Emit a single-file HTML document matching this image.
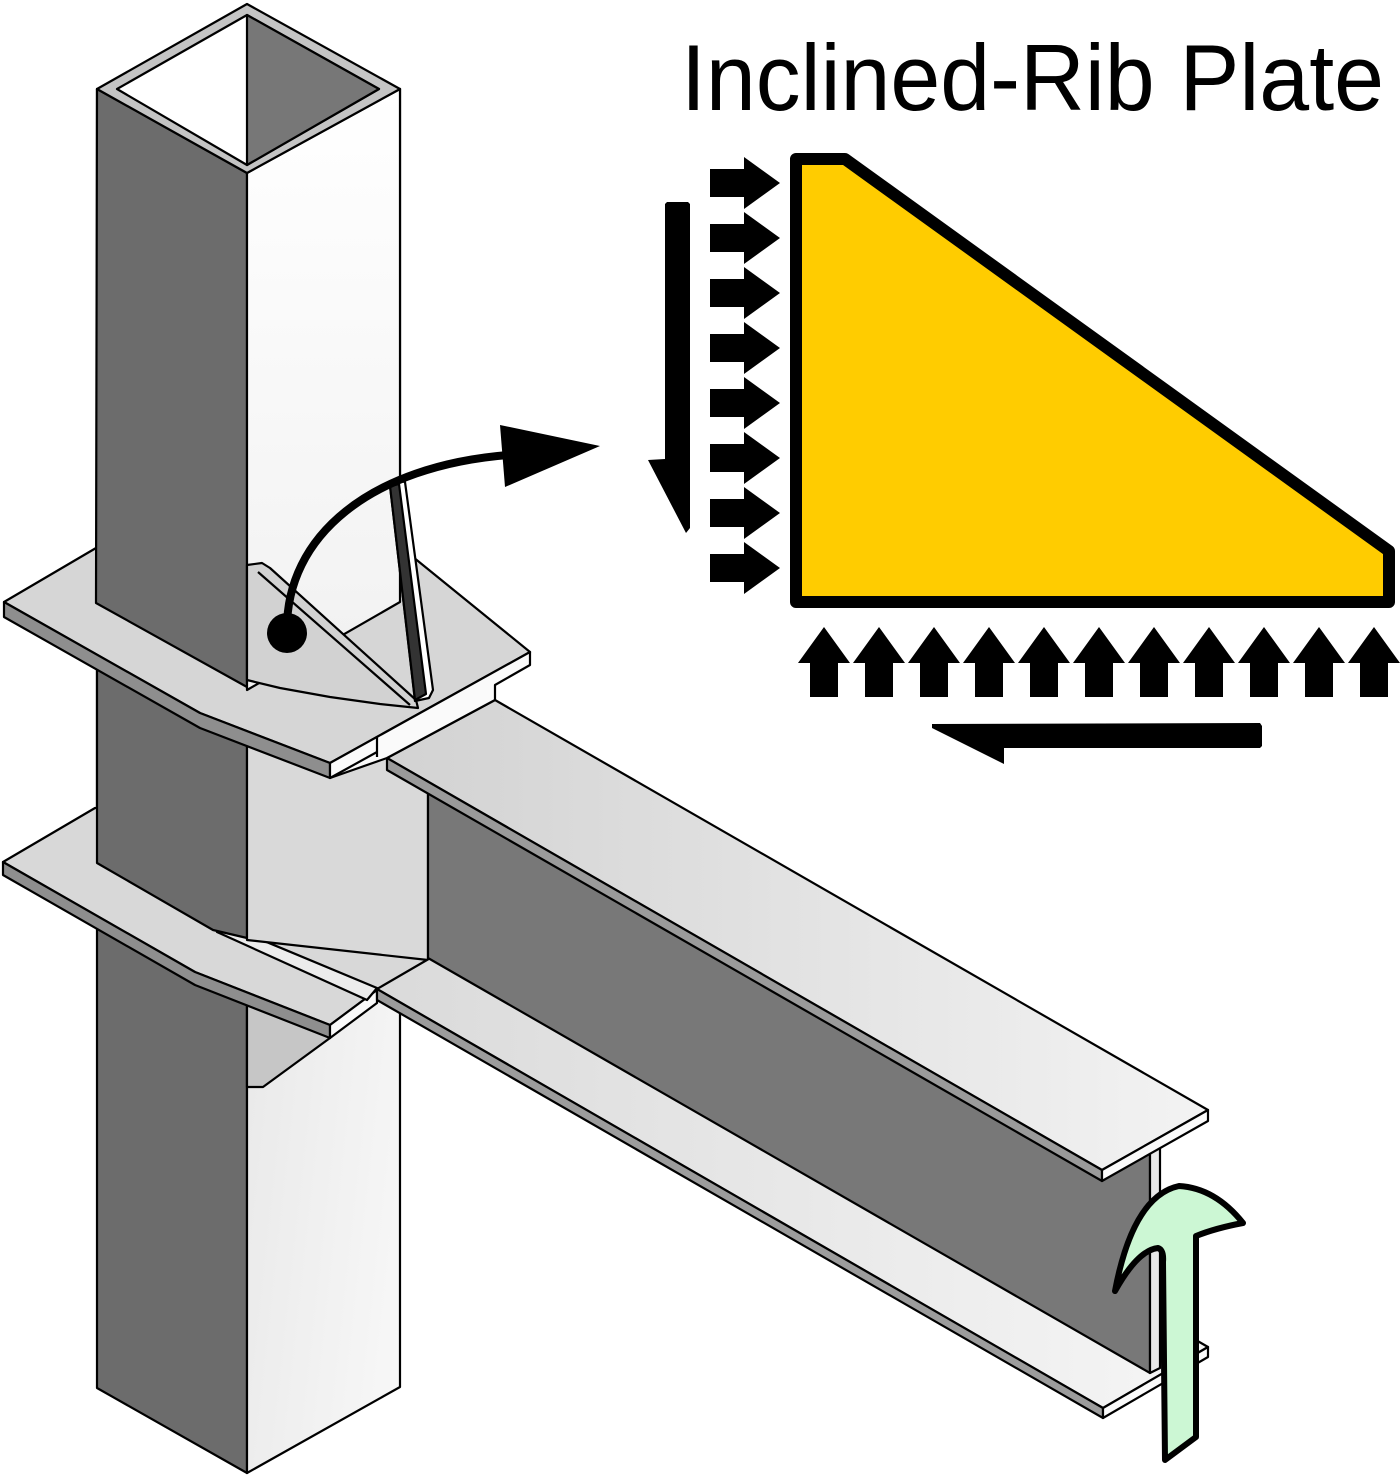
<!DOCTYPE html>
<html><head><meta charset="utf-8"><style>
html,body{margin:0;padding:0;background:#fff}
svg{display:block}
</style></head><body>
<svg width="1400" height="1478" viewBox="0 0 1400 1478" xmlns="http://www.w3.org/2000/svg">
<defs>
<linearGradient id="colR" x1="0" y1="0" x2="0" y2="1"><stop offset="0" stop-color="#ffffff"/><stop offset="1" stop-color="#f1f1f1"/></linearGradient>
<linearGradient id="colRlow" x1="0" y1="0" x2="1" y2="1"><stop offset="0" stop-color="#e2e2e2"/><stop offset="1" stop-color="#f8f8f8"/></linearGradient>
<linearGradient id="flg" x1="0" y1="0" x2="1" y2="0"><stop offset="0" stop-color="#d2d2d2"/><stop offset="1" stop-color="#f3f3f3"/></linearGradient>
<linearGradient id="flg2" x1="0" y1="0" x2="1" y2="0"><stop offset="0" stop-color="#dadada"/><stop offset="1" stop-color="#f6f6f6"/></linearGradient>
</defs>
<g stroke="#000" stroke-width="2.2" stroke-linejoin="round">
<!-- full column -->
<polygon points="97,89 247,173 247,1473 97,1388" fill="#6c6c6c"/>
<polygon points="247,173 400,89 400,1387 247,1473" fill="url(#colRlow)"/>
<polygon points="247,997 330,1038 263,1087 247,1087" fill="#c6c6c6"/>

<!-- lower plate -->
<polygon points="3,862 95,808 430,808 430,990 377,990 330,1025 195,972" fill="#d8d8d8"/>
<polygon points="3,862 195,972 330,1025 330,1038 195,985 3,875" fill="#8e8e8e"/>
<polygon points="330,1025 377,990 377,1003 330,1038" fill="#fafafa"/>
<polygon points="217,932 233,928 377,988 367,1000" fill="#ececec"/>

<!-- column middle -->
<polygon points="97,603 247,687 247,938 213,930 97,863" fill="#6c6c6c"/>
<polygon points="247,690 400,602 428,602 428,960 247,940" fill="#d9d9d9"/>

<!-- bottom flange -->
<polygon points="377,989 482,928 1208,1347 1103,1408" fill="url(#flg2)"/>
<polygon points="377,989 1103,1408 1103,1418 377,1000" fill="#9c9c9c"/>
<polygon points="1103,1408 1208,1347 1208,1357 1103,1418" fill="#fafafa"/>

<!-- web -->
<polygon points="428,785 1150,1150 1150,1373 428,958" fill="#787878"/>
<polygon points="1150,1153 1160,1148 1160,1368 1150,1373" fill="#e8e8e8"/>

<!-- top flange -->
<polygon points="387,758 495,700 1208,1110 1102,1170" fill="url(#flg)"/>
<polygon points="387,758 1102,1170 1102,1181 387,770" fill="#9a9a9a"/>
<polygon points="1102,1170 1208,1110 1208,1121 1102,1181" fill="#fafafa"/>

<!-- upper plate -->
<polygon points="4,602 96,548 250,540 413,557 530,652 330,763 200,713" fill="#d6d6d6"/>
<polygon points="4,602 200,713 330,763 330,778 200,728 4,617" fill="#8e8e8e"/>
<polygon points="330,763 530,652 530,665 495,685 495,700 387,758 330,778" fill="#fafafa"/>
<polyline points="330,778 377,752" fill="none"/>
<polyline points="377,737 377,757" fill="none"/>

<!-- column upper -->
<polygon points="97,89 247,173 247,687 96,603" fill="#6c6c6c"/>
<polygon points="247,173 400,89 400,602 247,690" fill="url(#colR)"/>
<polygon points="97,89 247,4 400,89 247,173" fill="#c4c4c4"/>
<polygon points="117,89 247,15 379,89 247,165" fill="#ffffff"/>
<polygon points="247,15 379,89 247,165" fill="#777777"/>

<!-- inclined triangular rib -->
<polygon points="247,565 262,563 270,568 416,700 418,708 380,704 330,697 280,688 247,680" fill="#d2d2d2"/>
<polyline points="258,572 410,705" fill="none"/>

<!-- vertical rib -->
<polygon points="390,486 397,480 405,482 433,690 429,698 415,701" fill="#ffffff"/>
<polygon points="390,486 399,484 426,694 415,700" fill="#333333"/>
</g>

<!-- curved black arrow -->
<path d="M287,632 C285,535 372,466 508,455" fill="none" stroke="#000" stroke-width="8"/>
<polygon points="500,425 600,446 505,487" fill="#000"/>
<circle cx="287" cy="633" r="20" fill="#000"/>

<!-- green arrow -->
<path d="M1165,1460 L1196,1437 L1196,1236 Q1216,1228 1243,1223 Q1215,1188 1179,1186 Q1133,1196 1115,1291 Q1138,1250 1158,1248 Q1164,1250 1163,1262 Z" fill="#ccf7d4" stroke="#000" stroke-width="6" stroke-linejoin="round"/>

<!-- title -->
<text x="681" y="110" font-family="'Liberation Sans', Arial, sans-serif" font-size="94" textLength="703" lengthAdjust="spacingAndGlyphs" fill="#000">Inclined-Rib Plate</text>

<!-- yellow plate -->
<polygon points="796,159 845,159 1389,551 1389,602 796,602" fill="#ffcc00" stroke="#000" stroke-width="12" stroke-linejoin="round"/>

<!-- right-pointing arrows -->
<g fill="#000">
<polygon transform="translate(0,183)" points="710,-14 744,-14 744,-26 780,0 744,26 744,14 710,14"/>
<polygon transform="translate(0,238)" points="710,-14 744,-14 744,-26 780,0 744,26 744,14 710,14"/>
<polygon transform="translate(0,293)" points="710,-14 744,-14 744,-26 780,0 744,26 744,14 710,14"/>
<polygon transform="translate(0,348)" points="710,-14 744,-14 744,-26 780,0 744,26 744,14 710,14"/>
<polygon transform="translate(0,403)" points="710,-14 744,-14 744,-26 780,0 744,26 744,14 710,14"/>
<polygon transform="translate(0,458)" points="710,-14 744,-14 744,-26 780,0 744,26 744,14 710,14"/>
<polygon transform="translate(0,513)" points="710,-14 744,-14 744,-26 780,0 744,26 744,14 710,14"/>
<polygon transform="translate(0,568)" points="710,-14 744,-14 744,-26 780,0 744,26 744,14 710,14"/>

<!-- up arrows -->
<polygon transform="translate(824,0)" points="-14,697 -14,663 -26,663 0,627 26,663 14,663 14,697"/>
<polygon transform="translate(879,0)" points="-14,697 -14,663 -26,663 0,627 26,663 14,663 14,697"/>
<polygon transform="translate(934,0)" points="-14,697 -14,663 -26,663 0,627 26,663 14,663 14,697"/>
<polygon transform="translate(989,0)" points="-14,697 -14,663 -26,663 0,627 26,663 14,663 14,697"/>
<polygon transform="translate(1044,0)" points="-14,697 -14,663 -26,663 0,627 26,663 14,663 14,697"/>
<polygon transform="translate(1099,0)" points="-14,697 -14,663 -26,663 0,627 26,663 14,663 14,697"/>
<polygon transform="translate(1154,0)" points="-14,697 -14,663 -26,663 0,627 26,663 14,663 14,697"/>
<polygon transform="translate(1209,0)" points="-14,697 -14,663 -26,663 0,627 26,663 14,663 14,697"/>
<polygon transform="translate(1264,0)" points="-14,697 -14,663 -26,663 0,627 26,663 14,663 14,697"/>
<polygon transform="translate(1319,0)" points="-14,697 -14,663 -26,663 0,627 26,663 14,663 14,697"/>
<polygon transform="translate(1374,0)" points="-14,697 -14,663 -26,663 0,627 26,663 14,663 14,697"/>

<!-- shear harpoons -->
<polygon points="665,204 667,202 688,202 690,204 690,528 686,533 648,460 665,459"/>
<polygon points="932,724 1260,723 1262,726 1262,746 1260,748 1004,748 1004,764 932,728"/>
</g>
</svg>
</body></html>
